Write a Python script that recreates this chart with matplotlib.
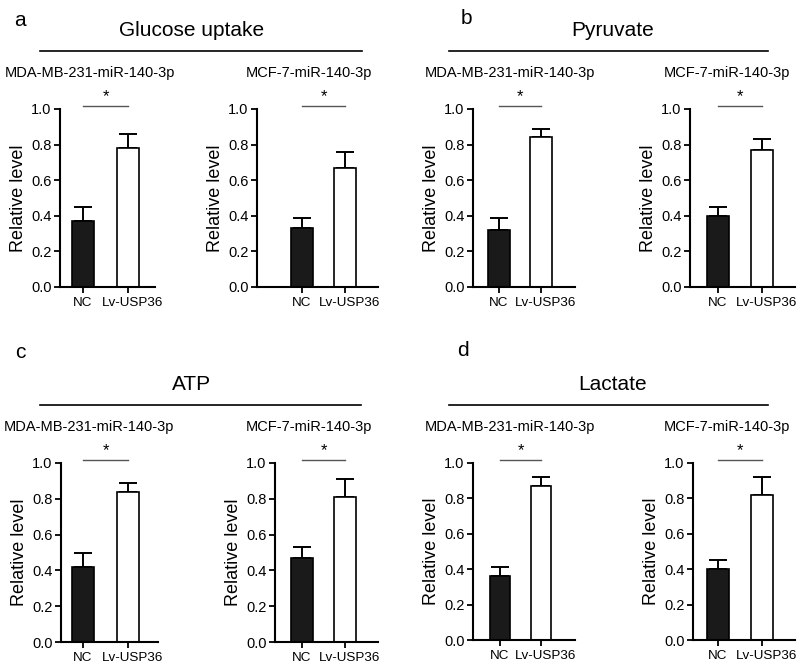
import matplotlib
matplotlib.use("Agg")
import matplotlib.pyplot as plt
from matplotlib.lines import Line2D

plt.rcParams['font.family'] = ['Liberation Sans', 'DejaVu Sans']

# data (one entry per small chart: a-left, a-right, b-left, b-right, c-left, c-right, d-left, d-right)
groups = ["NC", "Lv-USP36"]
cell_lines = ["MDA-MB-231-miR-140-3p", "MCF-7-miR-140-3p"] * 4
nc_mean = [0.37, 0.33, 0.32, 0.40, 0.42, 0.47, 0.36, 0.40]
nc_err = [0.08, 0.06, 0.07, 0.05, 0.08, 0.06, 0.05, 0.05]
lv_mean = [0.78, 0.67, 0.84, 0.77, 0.84, 0.81, 0.87, 0.82]
lv_err = [0.08, 0.09, 0.05, 0.06, 0.05, 0.10, 0.05, 0.10]
panel_letters = ["a", "b", "c", "d"]
panel_titles = ["Glucose uptake", "Pyruvate", "ATP", "Lactate"]

W, H = 800, 666
fig = plt.figure(figsize=(W / 100, H / 100), dpi=100)

# pixel layout: left, right, bar centre 0, bar centre 1, y of 0.0, y of 1.0
layout = [
    (60, 155, 83, 128, 287, 109),
    (257, 378, 302, 345, 287, 109),
    (473, 575, 499, 541, 287, 109),
    (690, 795, 718, 762, 287, 109),
    (61, 158, 83, 128, 642, 463),
    (275, 378, 302, 345, 642, 463),
    (473, 575, 500, 541, 640, 463),
    (693, 795, 718, 762, 640, 463),
]
sub_x = [90, 309, 510, 727, 89, 309, 510, 727]
sub_y = [73, 73, 73, 73, 427, 427, 427, 427]
# horizontal nudge (points) of each group label, as in the original
label_shift = [0, 3]

for i, (l, r, c0, c1, y0, y1) in enumerate(layout):
    ax = fig.add_axes([l / W, 1 - y0 / H, (r - l) / W, (y0 - y1) / H])
    unit = c1 - c0
    ax.bar([0], [nc_mean[i]], width=0.51, color="#1a1a1a", edgecolor="black", linewidth=1.2, zorder=2)
    ax.bar([1], [lv_mean[i]], width=0.51, color="white", edgecolor="black", linewidth=1.2, zorder=2)
    ax.errorbar([0, 1], [nc_mean[i], lv_mean[i]], yerr=[[0, 0], [nc_err[i], lv_err[i]]],
                fmt="none", ecolor="black", elinewidth=1.4, capsize=6.5, capthick=1.4, zorder=1)
    ax.set_xlim((l - c0) / unit, (r - c0) / unit)
    ax.set_ylim(0, 1.0)
    ax.set_yticks([0.0, 0.2, 0.4, 0.6, 0.8, 1.0])
    ax.set_yticklabels(["0.0", "0.2", "0.4", "0.6", "0.8", "1.0"])
    ax.set_xticks([0, 1])
    ax.set_xticklabels([])
    for j, g in enumerate(groups):
        ax.annotate(g, xy=(j, 0), xycoords=("data", "axes fraction"),
                    xytext=(label_shift[j], -7.5), textcoords="offset points",
                    ha="center", va="top", fontsize=9.7, annotation_clip=False)
    for s in ["top", "right"]:
        ax.spines[s].set_visible(False)
    for s in ["left", "bottom"]:
        ax.spines[s].set_linewidth(1.5)
    ax.tick_params(axis="y", labelsize=10.5, width=1.3, length=4, pad=2)
    ax.tick_params(axis="x", width=1.3, length=4)
    ax.set_ylabel("Relative level", fontsize=13, labelpad=3)
    # significance bar
    ax.plot([0, 1], [1.017, 1.017], color="#555555", lw=1, clip_on=False)
    ax.text(0.5, 1.03, "*", ha="center", va="bottom", fontsize=12, clip_on=False)
    fig.text(sub_x[i] / W, 1 - sub_y[i] / H, cell_lines[i], ha="center", va="center", fontsize=10.5)

letter_pos = [(20, 20), (466, 18), (20, 353), (463, 350)]
title_pos = [(192, 30), (613, 30), (192, 385), (613, 385)]
line_pos = [(40, 362, 51), (449, 768, 51), (40, 361, 405), (449, 768, 405)]
for k in range(4):
    lx, ly = letter_pos[k]
    fig.text(lx / W, 1 - ly / H, panel_letters[k], ha="center", va="center", fontsize=15)
    tx, ty = title_pos[k]
    fig.text(tx / W, 1 - ty / H, panel_titles[k], ha="center", va="center", fontsize=15)
    x0, x1, yy = line_pos[k]
    fig.add_artist(Line2D([x0 / W, x1 / W], [1 - yy / H, 1 - yy / H], color="black", lw=1.2))

fig.savefig("out.png", dpi=100)
